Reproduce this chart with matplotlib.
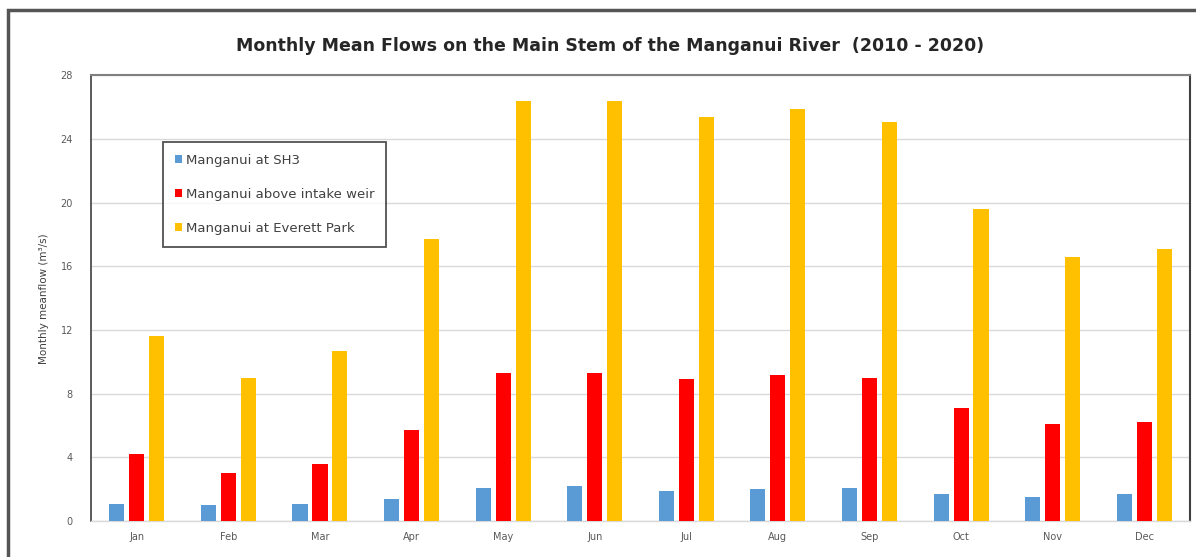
import matplotlib
matplotlib.use("Agg")
import matplotlib.pyplot as plt
import numpy as np
from matplotlib.patches import Rectangle

months = ["Jan", "Feb", "Mar", "Apr", "May", "Jun",
          "Jul", "Aug", "Sep", "Oct", "Nov", "Dec"]
series_names = ["Manganui at SH3", "Manganui above intake weir",
                "Manganui at Everett Park"]
sh3 = [1.1, 1.0, 1.1, 1.4, 2.1, 2.2, 1.9, 2.0, 2.1, 1.7, 1.5, 1.7]
intake_weir = [4.2, 3.0, 3.6, 5.7, 9.3, 9.3, 8.9, 9.2, 9.0, 7.1, 6.1, 6.2]
everett_park = [11.6, 9.0, 10.7, 17.7, 26.4, 26.4, 25.4, 25.9, 25.1, 19.6, 16.6, 17.1]
yticks = [0, 4, 8, 12, 16, 20, 24, 28]

colors = ["#5B9BD5", "#FF0000", "#FFC000"]

fig = plt.figure(figsize=(11.96, 5.57), dpi=100)
ax = fig.add_axes([0.0761, 0.0646, 0.9189, 0.7999])

x = np.arange(len(months))
step = 0.218
width = 0.165
for i, (vals, name, c) in enumerate(zip([sh3, intake_weir, everett_park],
                                         series_names, colors)):
    ax.bar(x + (i - 1) * step, vals, width=width, color=c, label=name,
           zorder=3)

ax.set_xlim(-0.5, len(months) - 0.5)
ax.set_ylim(0, 28)
ax.set_yticks(yticks)
ax.set_yticklabels([str(t) for t in yticks])
ax.set_xticks(x)
ax.set_xticklabels(months)
ax.tick_params(axis="both", length=0, labelsize=7, colors="#595959")
ax.tick_params(axis="y", pad=13)
ax.tick_params(axis="x", pad=8)
ax.yaxis.grid(True, color="#D9D9D9", linewidth=1, zorder=0)
ax.set_axisbelow(True)

ax.spines["left"].set_color("#404040")
ax.spines["left"].set_linewidth(1.2)
ax.spines["right"].set_color("#404040")
ax.spines["right"].set_linewidth(1.5)
ax.spines["top"].set_color("#808080")
ax.spines["top"].set_linewidth(1.5)
ax.spines["bottom"].set_color("#D9D9D9")
ax.spines["bottom"].set_linewidth(1)

ax.set_ylabel("Monthly meanflow (m³/s)", fontsize=7.5, color="#404040",
              labelpad=8)

fig.text(0.51, 0.918,
         "Monthly Mean Flows on the Main Stem of the Manganui River  (2010 - 2020)",
         ha="center", va="center", fontsize=12.5, fontweight="bold",
         color="#262626")

leg = ax.legend(loc="upper left", bbox_to_anchor=(0.0655, 0.851),
                fontsize=9.5, frameon=True, fancybox=False,
                edgecolor="#262626", labelspacing=1.6,
                handlelength=0.55, handleheight=0.55, handletextpad=0.3,
                borderpad=0.9, borderaxespad=0)
leg.get_frame().set_linewidth(1.3)
for t in leg.get_texts():
    t.set_color("#404040")

# outer chart border
fig.patches.append(Rectangle((8 / 1196, -0.05), 1.1, 1 - 10 / 557 + 0.05,
                             transform=fig.transFigure, fill=False,
                             edgecolor="#555555", linewidth=2.5))

fig.savefig("out.png", dpi=100, facecolor="white")
